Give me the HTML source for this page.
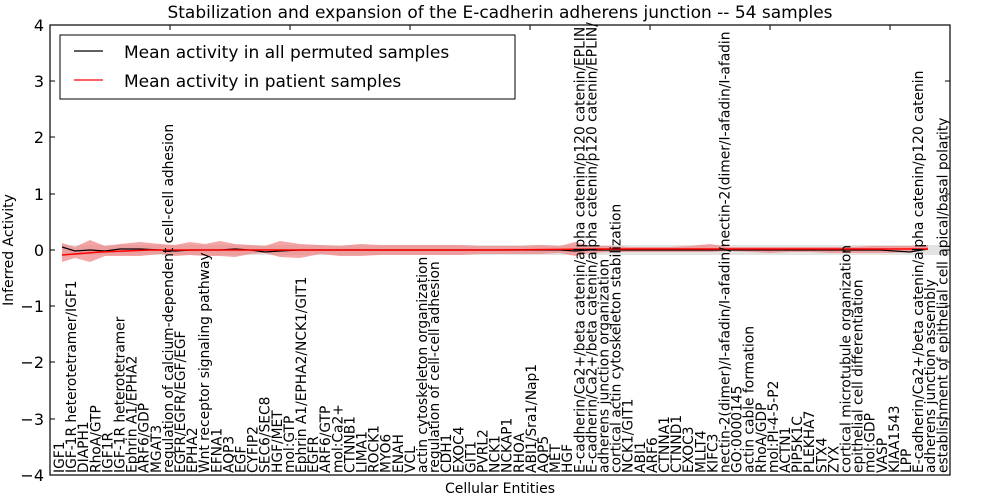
<!DOCTYPE html>
<html><head><meta charset="utf-8"><style>
html,body{margin:0;padding:0;background:#fff;width:1000px;height:500px;overflow:hidden}
svg{display:block}
text{font-family:"DejaVu Sans","Liberation Sans",sans-serif;fill:#000}
.l{font-size:13.8px}
</style></head><body>
<svg width="1000" height="500" viewBox="0 0 1000 500" xmlns="http://www.w3.org/2000/svg">
<text x="500" y="18" font-size="17" text-anchor="middle">Stabilization and expansion of the E-cadherin adherens junction -- 54 samples</text>
<path d="M62,250 L950,250" stroke="#ddd" stroke-width="10" opacity="0.8"/>
<polygon fill="#f08080" fill-opacity="0.7" points="62,243 75,247 90,240 105,246 120,244 140,242 160,244 175,245 190,242 205,244 220,241 235,244 250,245 265,246 280,241 300,244 320,245 340,246 360,244 380,245 400,245 420,245 440,245 460,245 480,246 500,246 520,246 540,245 560,246 575,242 590,246 610,246 630,247 650,247 670,247 690,246 710,244 730,247 750,247 770,247 790,247 810,247 830,247 850,247 870,246 890,246 910,246 928,245 928,250 910,252 890,253 870,253 850,253 830,253 810,252 790,252 770,253 750,252 730,251 710,252 690,252 670,252 650,252 630,252 610,252 590,253 575,256 560,253 540,254 520,254 500,254 480,254 460,255 440,255 420,255 400,255 380,255 360,256 340,256 320,254 300,258 280,257 265,253 250,254 235,257 220,256 205,256 190,255 175,256 160,254 140,256 120,256 105,256 90,262 75,258 62,262"/>
<polyline fill="none" stroke="#000" stroke-width="1.2" points="62,247 75,251 90,250 105,251 120,249 140,249 160,250 175,251 190,250 205,250 220,250 235,249 250,250 265,252 280,251 300,250 320,250 340,250 360,250 380,250 400,250 420,250 440,250 460,250 480,250 500,250 520,250 540,250 560,250 575,251 590,250 610,250 650,250 700,250 750,250 800,250 850,250 880,250 910,252 928,249"/>
<polyline fill="none" stroke="#f00" stroke-width="1.5" points="62,255 100,252 150,250 200,250 300,250 400,250 500,250 600,249 700,249 800,249 900,249 928,249"/>
<rect x="50" y="25" width="900" height="450" fill="none" stroke="#000" stroke-width="1.2"/>
<g stroke="#000" stroke-width="1">
<line x1="50" y1="81" x2="55" y2="81"/><line x1="50" y1="137" x2="55" y2="137"/><line x1="50" y1="194" x2="55" y2="194"/><line x1="50" y1="250" x2="55" y2="250"/><line x1="50" y1="306" x2="55" y2="306"/><line x1="50" y1="362" x2="55" y2="362"/><line x1="50" y1="419" x2="55" y2="419"/>
<line x1="945" y1="81" x2="950" y2="81"/><line x1="945" y1="137" x2="950" y2="137"/><line x1="945" y1="194" x2="950" y2="194"/><line x1="945" y1="250" x2="950" y2="250"/><line x1="945" y1="306" x2="950" y2="306"/><line x1="945" y1="362" x2="950" y2="362"/><line x1="945" y1="419" x2="950" y2="419"/>
<line x1="170" y1="25" x2="170" y2="30"/><line x1="290" y1="25" x2="290" y2="30"/><line x1="410" y1="25" x2="410" y2="30"/><line x1="530" y1="25" x2="530" y2="30"/><line x1="650" y1="25" x2="650" y2="30"/><line x1="770" y1="25" x2="770" y2="30"/><line x1="890" y1="25" x2="890" y2="30"/>
</g>
<g font-size="16" text-anchor="end">
<text x="44" y="31">4</text><text x="44" y="87">3</text><text x="44" y="143">2</text><text x="44" y="200">1</text><text x="44" y="256">0</text><text x="44" y="312">−1</text><text x="44" y="368">−2</text><text x="44" y="425">−3</text><text x="44" y="481">−4</text>
</g>
<text transform="translate(13,250) rotate(-90)" font-size="14" text-anchor="middle">Inferred Activity</text>
<text x="500" y="493" font-size="14" text-anchor="middle">Cellular Entities</text>
<rect x="60" y="35" width="455" height="64" fill="#fff" stroke="#000" stroke-width="1"/>
<line x1="74" y1="51" x2="103" y2="51" stroke="#000" stroke-width="1.2"/>
<line x1="74" y1="80" x2="103" y2="80" stroke="#f00" stroke-width="1.2"/>
<text x="124" y="58" font-size="17">Mean activity in all permuted samples</text>
<text x="124" y="87" font-size="17">Mean activity in patient samples</text>
<g class="l" text-anchor="start" id="labs"></g>
</svg>
<script>
var L=["IGF1","IGF-1R heterotetramer/IGF1","DIAPH1","RhoA/GTP","IGF1R","IGF-1R heterotetramer","Ephrin A1/EPHA2","ARF6/GDP","MGAT3","regulation of calcium-dependent cell-cell adhesion","EGFR/EGFR/EGF/EGF","EPHA2","Wnt receptor signaling pathway","EFNA1","AQP3","EGF","CYFIP2","SEC6/SEC8","HGF/MET","mol:GTP","Ephrin A1/EPHA2/NCK1/GIT1","EGFR","ARF6/GTP","mol:Ca2+","CTNNB1","LIMA1","ROCK1","MYO6","ENAH","VCL","actin cytoskeleton organization","regulation of cell-cell adhesion","CDH1","EXOC4","GIT1","PVRL2","NCK1","NCKAP1","RHOA","ABI1/Sra1/Nap1","AQP5","MET","HGF","E-cadherin/Ca2+/beta catenin/alpha catenin/p120 catenin/EPLIN","E-cadherin/Ca2+/beta catenin/alpha catenin/p120 catenin/EPLIN/","adherens junction organization","cortical actin cytoskeleton stabilization","NCK1/GIT1","ABI1","ARF6","CTNNA1","CTNND1","EXOC3","MLLT4","KIFC3","nectin-2(dimer)/I-afadin/I-afadin/nectin-2(dimer/I-afadin/I-afadin","GO:0000145","actin cable formation","RhoA/GDP","mol:PI-4-5-P2","ACTN1","PIP5K1C","PLEKHA7","STX4","ZYX","cortical microtubule organization","epithelial cell differentiation","mol:GDP","VASP","KIAA1543","LPP","E-cadherin/Ca2+/beta catenin/alpha catenin/p120 catenin","adherens junction assembly","establishment of epithelial cell apical/basal polarity"];
var g=document.getElementById("labs"),ns="http://www.w3.org/2000/svg";
for(var i=0;i<L.length;i++){var x=59+i*12.1+5;var t=document.createElementNS(ns,"text");t.setAttribute("transform","translate("+x.toFixed(1)+",473) rotate(-90)");t.textContent=L[i];g.appendChild(t);}
</script>
</body></html>
